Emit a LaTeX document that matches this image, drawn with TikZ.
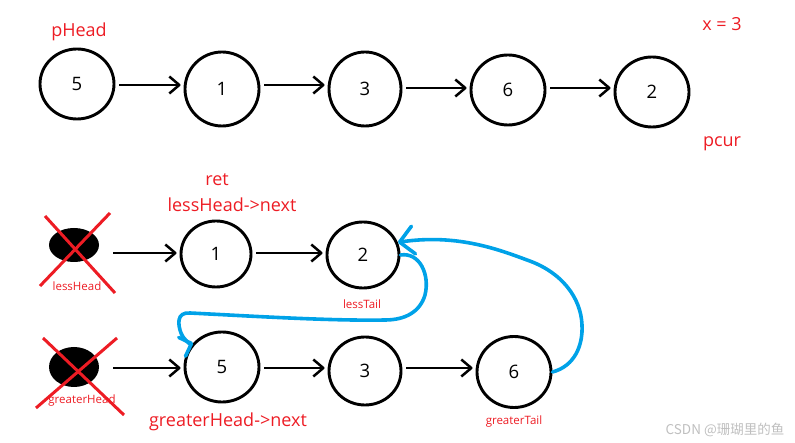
\documentclass[tikz,border=0pt]{standalone}
\usepackage{fontspec}
\setmainfont{Open Sans}
\newfontfamily\cjkfont{Noto Sans CJK SC}
\usetikzlibrary{shapes.geometric,arrows.meta}
\definecolor{pred}{HTML}{ED1C24}
\definecolor{pblue}{HTML}{00A2E8}
\tikzset{
  lnode/.style={ellipse,draw=black,line width=2.9pt,inner sep=0pt,minimum width=74pt,minimum height=70pt,font=\fontsize{18.5}{20}\selectfont},
  dummy/.style={ellipse,fill=black,inner sep=0pt},
  arr/.style={line width=2.5pt,-{Straight Barb[length=10pt,width=17pt,line join=round]},shorten <=4pt,shorten >=3pt},
  bluearr/.style={pblue,line width=3.6pt,line cap=round},
  cross/.style={pred,line width=3pt},
  bigred/.style={pred,font=\fontsize{18}{20}\selectfont,inner sep=0pt},
  smallred/.style={pred,font=\fontsize{11.5}{13}\selectfont,inner sep=0pt},
}
\begin{document}
\begin{tikzpicture}[x=1pt,y=-1pt]
\useasboundingbox (0,0) rectangle (795,443);
% top row
\node[lnode] (t5) at (77,84) {5};
\node[lnode,minimum height=74pt] (t1) at (222,89) {1};
\node[lnode,minimum width=72pt,minimum height=74pt] (t3) at (365,89) {3};
\node[lnode] (t6) at (508,90) {6};
\node[lnode] (t2) at (652,92) {2};
\coordinate (a1) at (0,85);
\coordinate (a2) at (0,88);
\draw[arr] (t5.east |- a1) -- (t1.west |- a1);
\draw[arr] (t1.east |- a1) -- (t3.west |- a1);
\draw[arr] (t3.east |- a2) -- (t6.west |- a2);
\draw[arr] (t6.east |- a2) -- (t2.west |- a2);
\node[bigred] (phead) at (79,32) {pHead};
\node[bigred] (xlab) at (722,24) {x = 3};
\node[bigred] (pcur) at (722,144) {pcur};
% less row
\node[dummy,minimum width=50pt,minimum height=34pt] (lh) at (74,245) {};
\node[lnode,minimum width=70pt,minimum height=66pt] (l1) at (216,254) {1};
\node[lnode,minimum width=72pt,minimum height=66pt] (l2) at (363,255) {2};
\coordinate (b1) at (0,253);
\draw[arr] (lh.east |- b1) ++(10,0) -- (l1.west |- b1);
\draw[arr] (l1.east |- b1) -- (l2.west |- b1);
\draw[cross] (45,216) -- (115,293);
\draw[cross] (110,213) -- (40,286);
\node[smallred] (lhl) at (77,286) {lessHead};
\node[bigred] (ret) at (217,180) {ret};
\node[bigred] (lnext) at (232,205) {lessHead->next};
\node[smallred] (ltl) at (362,304) {lessTail};
% greater row
\node[dummy,minimum width=50pt,minimum height=40pt] (gh) at (74,367) {};
\node[lnode] (g5) at (222,367) {5};
\node[lnode,minimum width=72pt,minimum height=68pt] (g3) at (365,371) {3};
\node[lnode,minimum height=71pt] (g6) at (514,372) {6};
\coordinate (c1) at (0,368);
\draw[arr] (gh.east |- c1) ++(10,0) -- (g5.west |- c1);
\draw[arr] (g5.east |- c1) -- (g3.west |- c1);
\draw[arr] (g3.east |- c1) -- (g6.west |- c1);
\draw[cross] (43,338) -- (124,415);
\draw[cross] (117,338) -- (36,408);
\node[smallred] (ghl) at (82,401) {greaterHead};
\node[bigred] (gnext) at (228,422) {greaterHead->next};
\node[smallred] (gtl) at (514,422) {greaterTail};
% blue links
\draw[bluearr,-{Straight Barb[length=14pt,width=28pt,line join=round,line cap=round]}]
  (g6.east) .. controls (575,366) and (583,345) .. (582,325)
  .. controls (581,298) and (562,272) .. (527,260)
  .. controls (495,248) and (455,234) .. (l2.20);
\draw[bluearr,-{Straight Barb[length=10pt,width=20pt,line join=round,line cap=round]}]
  (l2.east) .. controls (420,252) and (430,275) .. (425,295)
  .. controls (420,312) and (405,320) .. (385,320)
  .. controls (330,321) and (250,316) .. (190,313)
  .. controls (176,312) and (178,325) .. (181,333)
  .. controls (184,340) and (190,344) .. (g5.140);
% watermark
\node[text=black!25,font=\cjkfont\fontsize{13.5}{15}\selectfont,inner sep=0pt] (wm) at (725,430) {CSDN @珊瑚里的鱼};
\end{tikzpicture}
\end{document}
